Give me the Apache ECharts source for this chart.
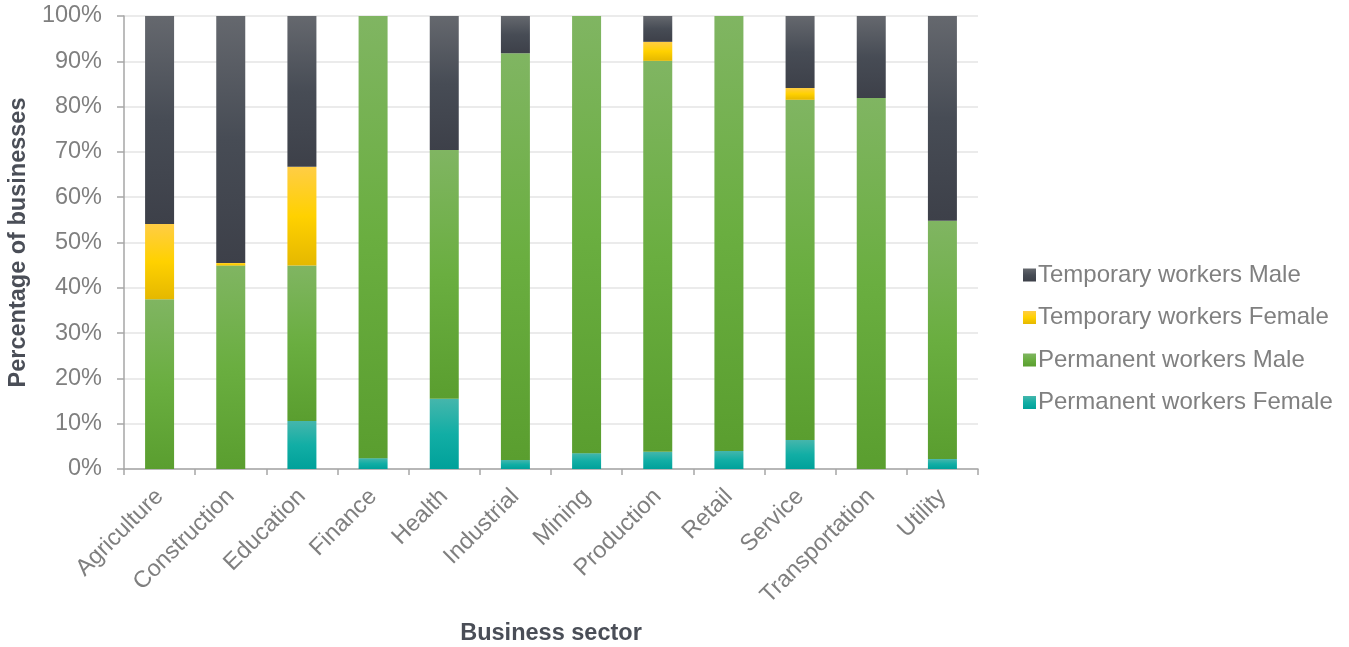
<!DOCTYPE html>
<html>
<head>
<meta charset="utf-8">
<title>Workforce composition by business sector</title>
<script src="https://cdn.jsdelivr.net/npm/echarts@6/dist/echarts.min.js"></script>
<style>
  html, body { margin: 0; padding: 0; background: #ffffff; }
  #chart { width: 1349px; height: 647px; }
</style>
</head>
<body>
<div id="chart"></div>
<script>
// Business sectors on the category axis
const sectors = ['Agriculture', 'Construction', 'Education', 'Finance', 'Health', 'Industrial',
                 'Mining', 'Production', 'Retail', 'Service', 'Transportation', 'Utility'];

// Share of businesses (%) per worker group, stacked bottom to top
const permanentFemale = [0, 0, 10.6, 2.4, 15.5, 2.0, 3.5, 3.8, 4.0, 6.4, 0, 2.2];
const permanentMale   = [37.5, 44.9, 34.3, 97.6, 54.9, 89.8, 96.5, 86.3, 96.0, 75.1, 81.9, 52.6];
const temporaryFemale = [16.6, 0.6, 21.8, 0, 0, 0, 0, 4.2, 0, 2.6, 0, 0];
const temporaryMale   = [45.9, 54.5, 33.3, 0, 29.6, 8.2, 0, 5.7, 0, 15.9, 18.1, 45.2];

// Y axis tick values
const yTicks = [0, 10, 20, 30, 40, 50, 60, 70, 80, 90, 100];

const chart = echarts.init(document.getElementById('chart'));

function vGrad(top, mid, bottom) {
  return new echarts.graphic.LinearGradient(0, 0, 0, 1, [
    { offset: 0, color: top },
    { offset: 0.5, color: mid },
    { offset: 1, color: bottom }
  ]);
}

const font = 'Arial, "Liberation Sans", Helvetica, sans-serif';
const labelSize = 23.5;

function barSeries(name, data, color) {
  return {
    name: name,
    type: 'bar',
    stack: 'total',
    data: data,
    barWidth: 29,
    itemStyle: { color: color },
    emphasis: { disabled: true }
  };
}

chart.setOption({
  animation: false,
  textStyle: { fontFamily: font },
  grid: { left: 124, right: 371, top: 16, bottom: 178, outerBoundsMode: 'none', containLabel: false },
  legend: {
    orient: 'vertical',
    left: 1018,
    top: 258,
    itemWidth: 13,
    itemHeight: 13,
    itemGap: 18.5,
    icon: 'rect',
    textStyle: { fontSize: 24, color: '#808080', fontFamily: font, lineHeight: 24, padding: [0, 0, 0, -3] },
    data: ['Temporary workers Male', 'Temporary workers Female', 'Permanent workers Male', 'Permanent workers Female']
  },
  xAxis: {
    type: 'category',
    data: sectors,
    name: 'Business sector',
    nameLocation: 'middle',
    nameGap: 153,
    nameTextStyle: { fontSize: labelSize, fontWeight: 'bold', color: '#4a4e57', fontFamily: font },
    axisLine: { lineStyle: { color: '#a6a6a6', width: 1.5 } },
    axisTick: { show: true, length: 6, lineStyle: { color: '#a6a6a6', width: 1.5 } },
    axisLabel: { rotate: 45, fontSize: labelSize, color: '#7f7f7f', margin: 24, fontFamily: font, interval: 0 }
  },
  yAxis: {
    type: 'value',
    min: 0,
    max: 100,
    interval: 10,
    name: 'Percentage of businesses',
    nameLocation: 'middle',
    nameGap: 90,
    nameTextStyle: { fontSize: labelSize, fontWeight: 'bold', color: '#4a4e57', fontFamily: font },
    axisLine: { show: true, lineStyle: { color: '#a6a6a6', width: 1.5 } },
    axisTick: { show: true, length: 7, lineStyle: { color: '#a6a6a6', width: 1.5 } },
    axisLabel: {
      fontSize: labelSize, color: '#7f7f7f', margin: 22, fontFamily: font,
      formatter: v => (yTicks.includes(v) ? v + '%' : '')
    },
    splitLine: { lineStyle: { color: '#e4e4e4', width: 1.5 } }
  },
  series: [
    barSeries('Permanent workers Female', permanentFemale, vGrad('#45b6ac', '#12aea5', '#00a19a')),
    barSeries('Permanent workers Male', permanentMale, vGrad('#80b562', '#6aae40', '#5a9e2f')),
    barSeries('Temporary workers Female', temporaryFemale, vGrad('#ffcd45', '#ffd100', '#e5b800')),
    barSeries('Temporary workers Male', temporaryMale, vGrad('#65686e', '#474c55', '#3d4049'))
  ]
});
</script>
</body>
</html>
